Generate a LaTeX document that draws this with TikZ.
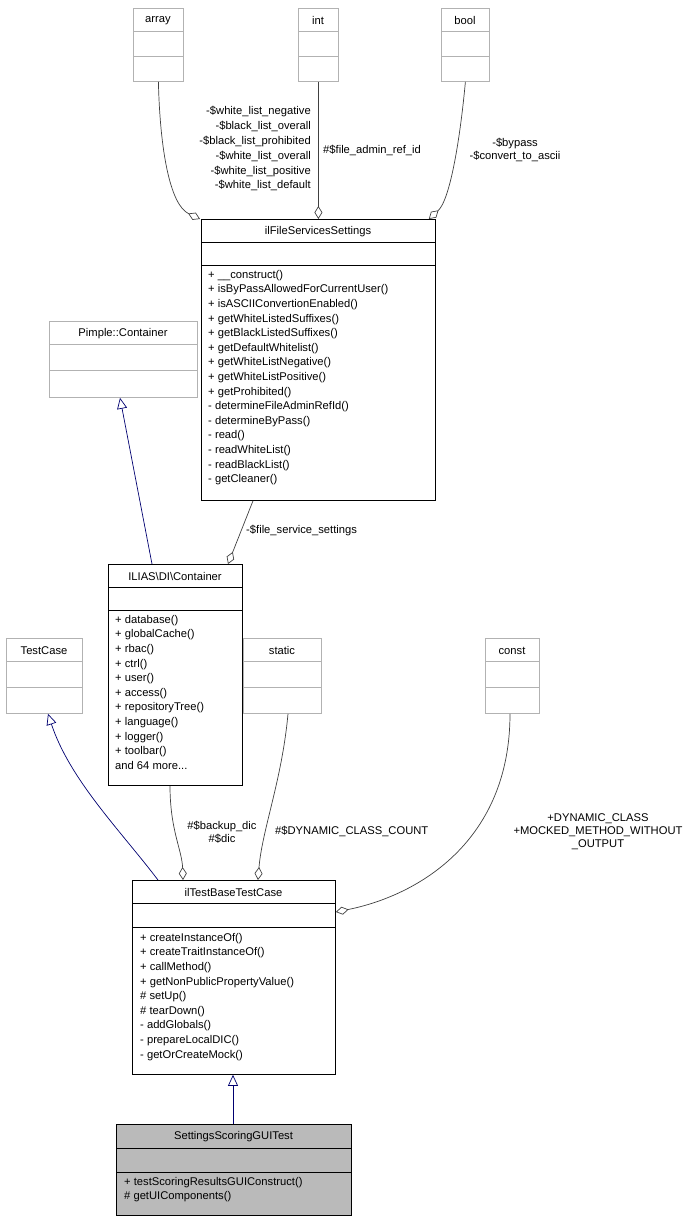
\documentclass[tikz,border=0pt]{standalone}
\usepackage{fontspec}
\setmainfont{Liberation Sans}
\usetikzlibrary{arrows.meta}
\begin{document}
\begin{tikzpicture}[x=1pt,y=-1pt,
  box/.style={draw,rectangle,anchor=north west,inner sep=0pt,line width=0.8pt},
  txt/.style={font=\fontsize{11.2}{13}\selectfont,inner sep=0pt},
  lbl/.style={font=\fontsize{11.2}{13}\selectfont,inner sep=0pt,align=center},
  ml/.style={txt,anchor=north west,align=left,font=\fontsize{11.2}{14.6}\selectfont},
  agg/.style={draw=black!75,line width=0.7pt,-{Diamond[open,length=13pt,width=8pt]}},
  inh/.style={draw=blue!30!black!80!blue,line width=0.7pt,-{Triangle[open,length=11pt,width=10pt]}}]
\useasboundingbox (0,0) rectangle (695,1221);
\newcommand{\cbox}[9]{%
 \node[box,draw=#9,minimum width=#4-#2,minimum height=#5-#3] (#1) at (#2,#3) {};
 \draw[line width=0.8pt,draw=#9] (#2,#7) -- (#4,#7) (#2,#8) -- (#4,#8);
 \node[txt] at ({(#2+#4)/2},{(#3+#7)/2+1}) {#6};}
% boxes
\cbox{array}{133}{8}{183}{81}{array}{31}{56}{black!30}
\cbox{int}{298}{8}{338}{81}{int}{31}{56}{black!30}
\cbox{bool}{441}{8}{489}{81}{bool}{31}{56}{black!30}
\cbox{pimple}{49}{321}{197}{397}{Pimple::Container}{344}{370}{black!30}
\cbox{tc}{6}{638}{82}{713}{TestCase}{661}{687}{black!30}
\cbox{static}{243}{638}{321}{713}{static}{661}{687}{black!30}
\cbox{const}{485}{638}{539}{713}{const}{661}{687}{black!30}
\cbox{ifs}{201}{219}{435}{500}{ilFileServicesSettings}{242}{265}{black}
\cbox{di}{108}{564}{242}{785}{ILIAS\textbackslash DI\textbackslash Container}{587}{610}{black}
\cbox{tb}{132}{880}{335}{1074}{ilTestBaseTestCase}{903}{927}{black}
\node[box,fill=black!27,minimum width=235,minimum height=91] (sg) at (116,1124) {};
\draw[line width=0.8pt] (116,1148) -- (351,1148) (116,1172) -- (351,1172);
\node[txt] at (233.5,1137) {SettingsScoringGUITest};
% method lists
\node[ml] at (208,270) {+ \_\_construct()\\+ isByPassAllowedForCurrentUser()\\+ isASCIIConvertionEnabled()\\+ getWhiteListedSuffixes()\\+ getBlackListedSuffixes()\\+ getDefaultWhitelist()\\+ getWhiteListNegative()\\+ getWhiteListPositive()\\+ getProhibited()\\- determineFileAdminRefId()\\- determineByPass()\\- read()\\- readWhiteList()\\- readBlackList()\\- getCleaner()};
\node[ml] at (115,615) {+ database()\\+ globalCache()\\+ rbac()\\+ ctrl()\\+ user()\\+ access()\\+ repositoryTree()\\+ language()\\+ logger()\\+ toolbar()\\and 64 more...};
\node[ml] at (140,933) {+ createInstanceOf()\\+ createTraitInstanceOf()\\+ callMethod()\\+ getNonPublicPropertyValue()\\\# setUp()\\\# tearDown()\\- addGlobals()\\- prepareLocalDIC()\\- getOrCreateMock()};
\node[ml] at (124,1177) {+ testScoringResultsGUIConstruct()\\\# getUIComponents()};
% connectors
\draw[agg] (array.south) .. controls (160,150) and (170,205) .. ([xshift=-1]ifs.north west);
\node[lbl,anchor=north east,align=right,font=\fontsize{11.2}{14.9}\selectfont] at (311,106) {-\$white\_list\_negative\\-\$black\_list\_overall\\-\$black\_list\_prohibited\\-\$white\_list\_overall\\-\$white\_list\_positive\\-\$white\_list\_default};
\draw[agg] (int.south) -- (int.south |- ifs.north);
\node[lbl,anchor=west] at (323,150) {\#\$file\_admin\_ref\_id};
\draw[agg] (bool.south) .. controls (460,140) and (450,200) .. ([xshift=-7]ifs.north east);
\node[lbl] at (515,150) {-\$bypass\\-\$convert\_to\_ascii};
\draw[inh] (di.north -| 152,0) -- (pimple.south -| 120,0);
\draw[agg] (ifs.south -| 253,0) -- (di.north -| 228,0);
\node[lbl,anchor=west] at (246,531) {-\$file\_service\_settings};
\draw[inh] (tb.north -| 158,0) .. controls (120,830) and (70,780) .. (tc.south -| 48,0);
\draw[agg] (di.south -| 170,0) .. controls (170,830) and (182,850) .. (tb.north -| 183,0);
\node[lbl] at (222,832) {\#\$backup\_dic\\\#\$dic};
\draw[agg] (static.south -| 288,0) .. controls (282,780) and (262,830) .. (tb.north -| 258,0);
\node[lbl,anchor=west] at (275,831) {\#\$DYNAMIC\_CLASS\_COUNT};
\draw[agg] (const.south -| 510,0) .. controls (510,840) and (420,895) .. (tb.east |- 0,912);
\node[lbl] at (598,832) {+DYNAMIC\_CLASS\\+MOCKED\_METHOD\_WITHOUT\\\_OUTPUT};
\draw[inh] (sg.north -| 233,0) -- (tb.south -| 233,0);
\end{tikzpicture}
\end{document}
